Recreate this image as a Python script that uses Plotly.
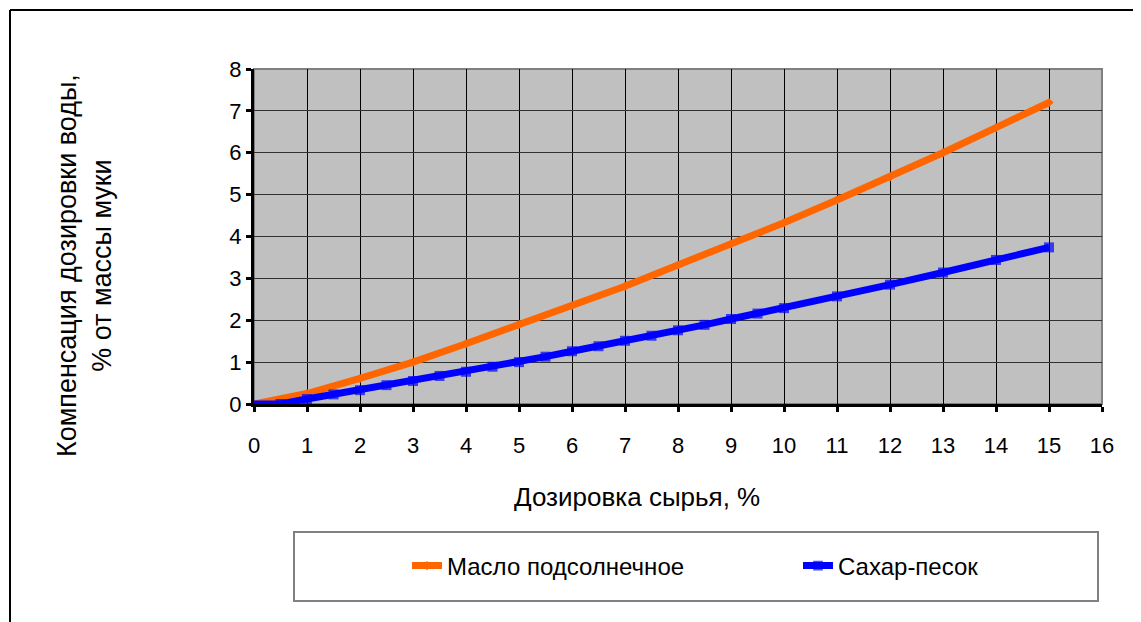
import plotly.graph_objects as go

# Data
oil_x = [0, 1, 2, 3, 4, 5, 6, 7, 8, 9, 10, 11, 12, 13, 14, 15]
oil_y = [0, 0.25, 0.61, 1.0, 1.44, 1.9, 2.35, 2.81, 3.32, 3.82, 4.33, 4.87, 5.42, 6.0, 6.6, 7.2]

sugar_x = [0, 0.5, 1, 1.5, 2, 2.5, 3, 3.5, 4, 4.5, 5, 5.5, 6, 6.5, 7, 7.5, 8, 8.5, 9, 9.5, 10,
           11, 12, 13, 14, 15]
sugar_y = [0, 0, 0.12, 0.23, 0.33, 0.45, 0.55, 0.67, 0.77, 0.89, 1.0, 1.13, 1.26, 1.38, 1.51,
           1.63, 1.76, 1.89, 2.03, 2.16, 2.29, 2.57, 2.85, 3.14, 3.44, 3.74]

x_ticks = list(range(0, 17))
y_ticks = list(range(0, 9))

series_names = ["Масло подсолнечное", "Сахар-песок"]
x_title = "Дозировка сырья, %"
y_title = "Компенсация дозировки воды,<br>% от массы муки"

FONT = "Liberation Sans, Arial, sans-serif"

# The page body has an 8px margin; work in screen coordinates.
OFF = 8
SW, SH = 1141, 622
PL, PR, PT, PB = 254, 1102, 69, 404     # plot area in screen pixels
W, H = SW - OFF, SH - OFF
L, T = PL - OFF, PT - OFF
R = W - (PR - OFF)
B = H - (PB - OFF)
pw, ph = PR - PL, PB - PT


def px(sx):
    return (sx - PL) / pw


def py(sy):
    return (PB - sy) / ph


fig = go.Figure()
fig.add_trace(go.Scatter(
    x=oil_x, y=oil_y, name=series_names[0], mode="lines+markers",
    line=dict(color="#FF6600", width=7),
    marker=dict(symbol="diamond", size=7, color="#FF6600", line=dict(width=0)),
    legend="legend",
))
fig.add_trace(go.Scatter(
    x=sugar_x, y=sugar_y, name=series_names[1], mode="lines+markers",
    line=dict(color="#0000FF", width=7),
    marker=dict(symbol="square", size=[0] + [10] * (len(sugar_x) - 1), color="#0000FF",
                line=dict(width=0)),
    legend="legend2",
))

leg_common = dict(
    orientation="h", xanchor="left", yanchor="middle",
    bgcolor="rgba(0,0,0,0)", borderwidth=0,
    font=dict(family=FONT, size=24, color="black"),
)

fig.update_layout(
    width=W, height=H,
    margin=dict(l=L, r=R, t=T, b=B, pad=0),
    paper_bgcolor="white",
    plot_bgcolor="#C0C0C0",
    font=dict(family=FONT, size=22, color="black"),
    showlegend=True,
    legend=dict(x=px(407), y=py(566), **leg_common),
    legend2=dict(x=px(798), y=py(566), **leg_common),
    xaxis=dict(
        range=[0, 16], tickvals=x_ticks, ticktext=[str(v) for v in x_ticks],
        showgrid=True, gridcolor="black", gridwidth=1,
        showline=True, linecolor="black", linewidth=3,
        ticks="outside", ticklen=5, tickwidth=3, tickcolor="black",
        ticklabelstandoff=15, zeroline=False,
        tickfont=dict(family=FONT, size=22),
    ),
    yaxis=dict(
        range=[0, 8], tickvals=y_ticks, ticktext=[str(v) for v in y_ticks],
        showgrid=True, gridcolor="#303030", gridwidth=1,
        showline=True, linecolor="black", linewidth=3,
        ticks="outside", ticklen=5, tickwidth=3, tickcolor="black",
        ticklabelstandoff=0, zeroline=False,
        tickfont=dict(family=FONT, size=22),
    ),
    shapes=[
        # plot area gray frame (top/right visible)
        dict(type="rect", xref="paper", yref="paper", x0=0, x1=1, y0=0, y1=1,
             line=dict(color="#808080", width=2), fillcolor="rgba(0,0,0,0)", layer="below"),
        # legend box
        dict(type="rect", xref="paper", yref="paper",
             x0=px(294), x1=px(1098), y0=py(601), y1=py(532),
             line=dict(color="#808080", width=2), fillcolor="white", layer="below"),
        # outer chart frame (top and left)
        dict(type="line", xref="paper", yref="paper",
             x0=px(10), x1=px(1160), y0=py(10), y1=py(10),
             line=dict(color="black", width=2)),
        dict(type="line", xref="paper", yref="paper",
             x0=px(10), x1=px(10), y0=py(10), y1=py(640),
             line=dict(color="black", width=2)),
    ],
    annotations=[
        dict(text=x_title, xref="paper", yref="paper", x=px(637), y=py(497),
             xanchor="center", yanchor="middle", showarrow=False,
             font=dict(family=FONT, size=26, color="black")),
        dict(text=y_title, xref="paper", yref="paper", x=px(84), y=py(266),
             xanchor="center", yanchor="middle", showarrow=False, textangle=-90,
             font=dict(family=FONT, size=27, color="black")),
    ],
)

fig.write_html("out.html")
